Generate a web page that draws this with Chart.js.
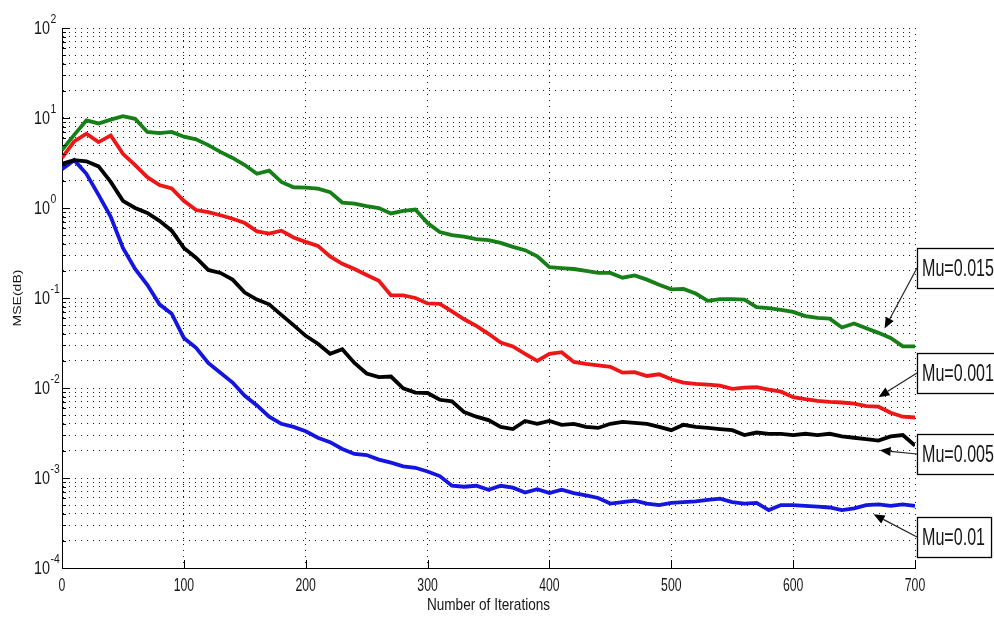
<!DOCTYPE html>
<html>
<head>
<meta charset="utf-8">
<script src="https://cdn.jsdelivr.net/npm/chart.js@4.4.1/dist/chart.umd.min.js"></script>
<style>
  html, body { margin: 0; padding: 0; background: #fff; }
  #wrap { width: 994px; height: 621px; position: relative; }
</style>
</head>
<body>
<div id="wrap"><canvas id="c" width="994" height="621"></canvas></div>
<script>
// Iteration index of each sample
const iterations = [
  0, 10, 20, 30, 40, 50, 60, 70, 80, 90,
  100, 110, 120, 130, 140, 150, 160, 170, 180, 190,
  200, 210, 220, 230, 240, 250, 260, 270, 280, 290,
  300, 310, 320, 330, 340, 350, 360, 370, 380, 390,
  400, 410, 420, 430, 440, 450, 460, 470, 480, 490,
  500, 510, 520, 530, 540, 550, 560, 570, 580, 590,
  600, 610, 620, 630, 640, 650, 660, 670, 680, 690, 700
];

// Learning-curve MSE for each step size
const mse_mu0015 = [
  4.4, 6.5, 9.4, 8.7, 9.6, 10.5, 9.8, 7.0, 6.8, 7.0,
  6.2, 5.8, 5.0, 4.2, 3.6, 3.0, 2.4, 2.6, 1.95, 1.7,
  1.68, 1.64, 1.5, 1.15, 1.12, 1.05, 1.0, 0.87, 0.93, 0.96,
  0.68, 0.54, 0.50, 0.48, 0.45, 0.44, 0.41, 0.37, 0.34, 0.29,
  0.22, 0.215, 0.21, 0.20, 0.19, 0.19, 0.168, 0.178, 0.16, 0.14,
  0.125, 0.126, 0.112, 0.093, 0.097, 0.097, 0.096, 0.079, 0.077, 0.074,
  0.070, 0.063, 0.060, 0.059, 0.047, 0.052, 0.046, 0.041, 0.036, 0.029, 0.029
];
const mse_mu0001 = [
  3.6, 5.5, 6.7, 5.4, 6.4, 4.0, 3.0, 2.2, 1.8, 1.65,
  1.2, 0.95, 0.90, 0.83, 0.76, 0.68, 0.55, 0.52, 0.56, 0.47,
  0.42, 0.38, 0.29, 0.24, 0.21, 0.18, 0.155, 0.107, 0.107, 0.10,
  0.087, 0.086, 0.071, 0.058, 0.049, 0.040, 0.032, 0.029, 0.024, 0.020,
  0.024, 0.025, 0.0195, 0.0185, 0.0178, 0.0172, 0.0148, 0.015, 0.0136, 0.0142,
  0.0125, 0.0115, 0.0111, 0.0109, 0.0106, 0.0098, 0.0101, 0.0102, 0.0096, 0.0091,
  0.0079, 0.0075, 0.0072, 0.0070, 0.0069, 0.0067, 0.0063, 0.0062, 0.0053, 0.0048, 0.0047
];
const mse_mu0005 = [
  3.1, 3.4, 3.3, 2.9, 1.95, 1.2, 1.0, 0.88, 0.72, 0.56,
  0.36, 0.28, 0.205, 0.19, 0.16, 0.115, 0.096, 0.085, 0.065, 0.050,
  0.038, 0.031, 0.024, 0.027, 0.019, 0.0145, 0.0132, 0.0134, 0.0099, 0.0089,
  0.0088, 0.0074, 0.0071, 0.0054, 0.0048, 0.0044, 0.0037, 0.0035, 0.0043, 0.0040,
  0.0043, 0.0039, 0.0040, 0.0037, 0.0036, 0.0040, 0.0042, 0.0041, 0.0040, 0.0037,
  0.0034, 0.0039, 0.0037, 0.0036, 0.0035, 0.0034, 0.0030, 0.0032, 0.0031, 0.0031,
  0.0030, 0.0031, 0.0030, 0.0031, 0.0029, 0.0028, 0.0027, 0.0026, 0.0029, 0.0030, 0.0023
];
const mse_mu001 = [
  2.7, 3.4, 2.4, 1.4, 0.8, 0.36, 0.21, 0.14, 0.085, 0.067,
  0.036, 0.028, 0.019, 0.0148, 0.0115, 0.0082, 0.0064, 0.0048, 0.0040, 0.0037,
  0.0033, 0.0028, 0.0025, 0.0021, 0.00185, 0.0018, 0.0016, 0.00148, 0.00135, 0.0013,
  0.00118, 0.00105, 0.00082, 0.00080, 0.00082, 0.00074, 0.00082, 0.00078, 0.00069, 0.00075,
  0.00068, 0.00074, 0.00068, 0.00064, 0.00060, 0.00052, 0.00054, 0.00056, 0.00052, 0.00050,
  0.00053, 0.00054, 0.00055, 0.00057, 0.00059, 0.00054, 0.00052, 0.00053, 0.00044, 0.00050,
  0.00050, 0.00049, 0.00048, 0.00047, 0.00044, 0.00046, 0.00050, 0.00051, 0.00049, 0.00051, 0.00049
];

// Axis ticks
const xTicks = [0, 100, 200, 300, 400, 500, 600, 700];
const yExponents = [-4, -3, -2, -1, 0, 1, 2];
const yMantissas = [1, 2, 3, 4, 5, 6, 7, 8, 9];

// Callout labels and the point each arrow aims at (iteration, MSE)
const calloutText = ['Mu=0.015', 'Mu=0.001', 'Mu=0.005', 'Mu=0.01'];
const calloutIter = [675, 670, 671, 666];
const calloutValue = [0.0457, 0.0079, 0.00203, 0.000395];

const seriesColors = ['#177f17', '#ee1616', '#000000', '#1515e0'];
const seriesLabels = ['Mu=0.015', 'Mu=0.001', 'Mu=0.005', 'Mu=0.01'];
const seriesValues = [mse_mu0015, mse_mu0001, mse_mu0005, mse_mu001];

const FONT = '"Liberation Sans", Arial, Helvetica, sans-serif';

// Draw text squeezed horizontally by sx
function squeezedText(ctx, text, x, y, size, sx, align) {
  ctx.save();
  ctx.font = size + 'px ' + FONT;
  ctx.textBaseline = 'middle';
  ctx.textAlign = 'left';
  const w = ctx.measureText(text).width * sx;
  const left = align === 'center' ? x - w / 2 : (align === 'right' ? x - w : x);
  ctx.translate(left, y);
  ctx.scale(sx, 1);
  ctx.fillStyle = '#161616';
  ctx.fillText(text, 0, 0);
  ctx.restore();
  return w;
}

const decorations = {
  id: 'decorations',
  afterDraw(chart) {
    const ctx = chart.ctx;
    const xs = chart.scales.x, ys = chart.scales.y;
    const area = chart.chartArea;
    ctx.save();
    ctx.strokeStyle = '#000';
    ctx.lineWidth = 1;

    // inward tick marks on the left axis
    yExponents.forEach((e, k) => {
      yMantissas.forEach(m => {
        if (k === yExponents.length - 1 && m > 1) return;
        const py = Math.round(ys.getPixelForValue(m * Math.pow(10, e))) + 0.5;
        const len = m === 1 ? 8 : 4;
        ctx.beginPath();
        ctx.moveTo(area.left, py);
        ctx.lineTo(area.left + len, py);
        ctx.stroke();
      });
    });
    // inward tick marks on the bottom axis
    xTicks.forEach(v => {
      const px = Math.round(xs.getPixelForValue(v)) + 0.5;
      ctx.beginPath();
      ctx.moveTo(px, area.bottom);
      ctx.lineTo(px, area.bottom - 8);
      ctx.stroke();
    });

    // y tick labels: 10 with raised exponent
    yExponents.forEach(e => {
      const py = ys.getPixelForValue(Math.pow(10, e));
      squeezedText(ctx, '10', area.left - 12, py + 1, 18, 0.8, 'right');
      squeezedText(ctx, String(e), area.left - 11.5, py - 9, 13, 0.8, 'left');
    });
    // x tick labels
    xTicks.forEach(v => {
      squeezedText(ctx, String(v), xs.getPixelForValue(v), area.bottom + 18, 18, 0.68, 'center');
    });

    // axis titles
    squeezedText(ctx, 'Number of Iterations', (area.left + area.right) / 2, area.bottom + 37, 17, 0.8, 'center');
    ctx.save();
    ctx.translate(18, (area.top + area.bottom) / 2);
    ctx.rotate(-Math.PI / 2);
    ctx.font = '14px ' + FONT;
    ctx.textAlign = 'center';
    ctx.textBaseline = 'middle';
    ctx.fillStyle = '#161616';
    ctx.save();
    ctx.scale(1, 0.8);
    ctx.fillText('MSE(dB)', 0, 0);
    ctx.restore();
    ctx.restore();

    // callout boxes with arrows
    const boxTop = [248, 353, 434, 517];
    const boxH = 40;
    calloutText.forEach((t, i) => {
      const bx = area.right + 2;
      const by = boxTop[i];
      ctx.font = '24px ' + FONT;
      const tw = ctx.measureText(t).width * 0.67;
      ctx.fillStyle = '#fff';
      ctx.fillRect(bx + 0.5, by + 0.5, tw + 11, boxH);
      ctx.strokeStyle = '#000';
      ctx.lineWidth = 1.3;
      ctx.strokeRect(bx + 0.5, by + 0.5, tw + 11, boxH);
      squeezedText(ctx, t, bx + 5, by + boxH / 2 + 1, 24, 0.67, 'left');

      // arrow from the box edge to the curve
      const tx = xs.getPixelForValue(calloutIter[i]);
      const ty = ys.getPixelForValue(calloutValue[i]);
      const sx0 = bx, sy0 = by + boxH / 2;
      const ang = Math.atan2(ty - sy0, tx - sx0);
      const headLen = 11, headHalf = 4.5;
      const baseX = tx - headLen * Math.cos(ang), baseY = ty - headLen * Math.sin(ang);
      ctx.strokeStyle = '#222';
      ctx.lineWidth = 1.2;
      ctx.beginPath();
      ctx.moveTo(sx0, sy0);
      ctx.lineTo(baseX, baseY);
      ctx.stroke();
      ctx.fillStyle = '#000';
      ctx.beginPath();
      ctx.moveTo(tx, ty);
      ctx.lineTo(baseX + headHalf * Math.sin(ang), baseY - headHalf * Math.cos(ang));
      ctx.lineTo(baseX - headHalf * Math.sin(ang), baseY + headHalf * Math.cos(ang));
      ctx.closePath();
      ctx.fill();
    });
    ctx.restore();
  }
};

const datasets = seriesValues.map((vals, s) => ({
  label: seriesLabels[s],
  data: vals.map((v, i) => ({ x: iterations[i], y: v })),
  borderColor: seriesColors[s],
  backgroundColor: seriesColors[s],
  borderWidth: 3.8,
  pointRadius: 0,
  tension: 0,
  fill: false
}));

new Chart(document.getElementById('c'), {
  type: 'line',
  data: { datasets },
  options: {
    responsive: false,
    animation: false,
    devicePixelRatio: 1,
    layout: { padding: { left: 62, right: 79, top: 28, bottom: 53 } },
    plugins: { legend: { display: false }, tooltip: { enabled: false } },
    scales: {
      x: {
        type: 'linear',
        min: 0,
        max: 700,
        afterBuildTicks: axis => { axis.ticks = xTicks.map(v => ({ value: v })); },
        ticks: { display: false },
        grid: { color: '#1e1e1e', lineWidth: 1, drawTicks: false },
        border: { display: true, color: '#000', width: 1, dash: [1, 5] }
      },
      y: {
        type: 'logarithmic',
        min: 1e-4,
        max: 1e2,
        afterBuildTicks: axis => {
          const t = [];
          yExponents.forEach((e, k) => {
            yMantissas.forEach(m => {
              if (k === yExponents.length - 1 && m > 1) return;
              t.push({ value: m * Math.pow(10, e) });
            });
          });
          axis.ticks = t;
        },
        ticks: { display: false },
        grid: { color: '#1e1e1e', lineWidth: 1, drawTicks: false },
        border: { display: true, color: '#000', width: 1, dash: [1, 5] }
      }
    }
  },
  plugins: [decorations]
});
</script>
</body>
</html>
